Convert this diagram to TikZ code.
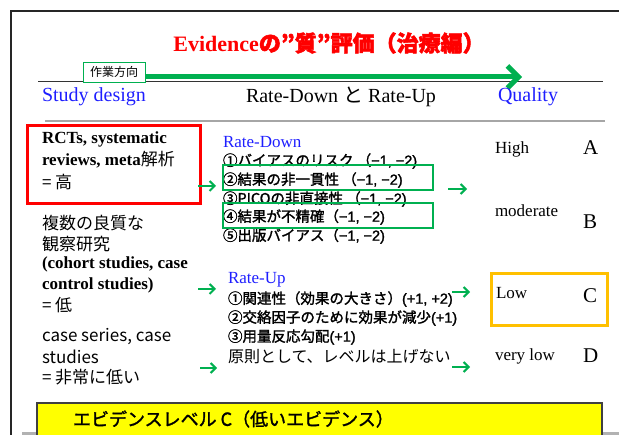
\documentclass[tikz,border=0pt]{standalone}
\usepackage{fontspec}
\setmainfont{Liberation Serif}
\newfontfamily\jp{Noto Sans CJK JP}
\newfontfamily\jpb[FakeBold=1.6]{Noto Sans CJK JP}
\newfontfamily\jpt[FakeBold=2.2]{Noto Sans CJK JP}
\newfontfamily\ls{Liberation Sans}
\newfontfamily\lsb[FakeBold=1.6]{Liberation Sans}
\usetikzlibrary{arrows.meta}
\definecolor{grn}{RGB}{0,176,80}
\definecolor{blu}{RGB}{30,30,255}
\definecolor{org}{RGB}{255,192,0}
\definecolor{ylw}{RGB}{255,255,0}
\newcommand\fsz[1]{\fontsize{#1}{#1}\selectfont}
\begin{document}
\begin{tikzpicture}[x=1pt,y=-1pt,
  lab/.style={anchor=west, inner sep=0pt, outer sep=0pt, text=black},
  hdr/.style={lab, font=\fsz{20}, text=blu},
  lbold/.style={lab, font=\fsz{17}\bfseries},
  ljp/.style={lab, font=\jp\fsz{17}},
  rd/.style={lab, font=\jpb\fsz{14.5}},
  qual/.style={lab, font=\fsz{17}},
  grade/.style={lab, font=\fsz{21}},
  sarrow/.style={draw=grn, line width=2pt, -{Straight Barb[length=5pt,width=10pt]}},
  gbox/.style={draw=grn, line width=2.5pt},
]
\useasboundingbox (0,0) rectangle (619,435);
% frame
\draw[line width=1.5pt, black!85] (11,435) -- (11,11) -- (619,11);
\draw[line width=3pt, black!30] (22,434) -- (619,434);
% title
\node[inner sep=0pt, text=red, font=\fsz{22}\bfseries] (title) at (329,43)
  {Evidence{\jpt の”質”評価（治療編）}};
% header line and work direction
\draw[line width=0.8pt, black!80] (38,81) -- (603,81);
\node[draw=grn, line width=0.7pt, fill=white, minimum width=62pt, minimum height=20pt,
      inner sep=0pt, font=\jp\fsz{12}] (wd) at (114,72) {作業方向};
\coordinate (bigend) at (522,77);
\draw[draw=grn, line width=5pt, -{Straight Barb[length=11pt,width=22pt]}]
  (wd.east |- bigend) -- (bigend);
% headers
\node[hdr] (hsd) at (42,97) {Study design};
\node[inner sep=0pt, font=\fsz{20}] (hrr) at (341,97) {Rate-Down {\jp と} Rate-Up};
\node[hdr] (hq) at (498,97) {Quality};
\draw[line width=1.5pt, black!35] (45,121) -- (605,121);
% left column
\node[lbold] (r1) at (42,139) {RCTs, systematic};
\node[lbold] (r2) at (42,160) {reviews, meta{\jp\mdseries 解析}};
\node[ljp] (r3) at (42,182) {= 高};
\draw[red, line width=3pt] (27,126) rectangle (200,204);
\node[ljp] (o1) at (42,223) {複数の良質な};
\node[ljp] (o2) at (42,244) {観察研究};
\node[lbold] (o3) at (42,264) {(cohort studies, case};
\node[lbold] (o4) at (42,285) {control studies)};
\node[ljp] (o5) at (42,305) {= 低};
\node[ljp] (c1) at (42,337) {case series, case};
\node[ljp] (c2) at (42,357) {studies};
\node[ljp] (c3) at (42,377) {= 非常に低い};
% left arrows
\coordinate (la1s) at (198,186); \coordinate (la1e) at (216,186);
\coordinate (la2s) at (198,289); \coordinate (la2e) at (216,289);
\coordinate (la3s) at (200,368); \coordinate (la3e) at (217,368);
\draw[sarrow] (la1s) -- (la1e);
\draw[sarrow] (la2s) -- (la2e);
\draw[sarrow] (la3s) -- (la3e);
% rate down
\node[lab, font=\fsz{17}, text=blu] (rdh) at (223,142) {Rate-Down};
\node[rd] (d1) at (223,161) {①バイアスのリスク （{\lsb −1, −2)}};
\node[rd] (d2) at (223,180) {②結果の非一貫性 （{\lsb −1, −2)}};
\node[rd] (d3) at (223,199) {③PICOの非直接性 （{\lsb −1, −2)}};
\node[rd] (d4) at (223,217) {④結果が不精確（{\lsb −1, −2)}};
\node[rd] (d5) at (223,236) {⑤出版バイアス（{\lsb −1, −2)}};
\draw[gbox] (223,165) rectangle (433,190);
\draw[gbox] (223,203) rectangle (433,228);
% rate up
\node[lab, font=\fsz{17}, text=blu] (ruh) at (228,280) {Rate-Up};
\node[rd] (u1) at (228,299) {①関連性（効果の大きさ）{\lsb (+1, +2)}};
\node[rd] (u2) at (228,318) {②交絡因子のために効果が減少{\lsb (+1)}};
\node[rd] (u3) at (228,337) {③用量反応勾配{\lsb (+1)}};
\node[lab, font=\jp\fsz{16}] (u4) at (228,357) {原則として、レベルは上げない};
% right arrows
\coordinate (ra1s) at (448,189); \coordinate (ra1e) at (467,189);
\coordinate (ra2s) at (452,292); \coordinate (ra2e) at (470,292);
\coordinate (ra3s) at (452,367); \coordinate (ra3e) at (470,367);
\draw[sarrow] (ra1s) -- (ra1e);
\draw[sarrow] (ra2s) -- (ra2e);
\draw[sarrow] (ra3s) -- (ra3e);
% quality
\node[qual] (qh) at (495,149) {High};
\node[grade] (ga) at (583,148) {A};
\node[qual] (qm) at (495,211) {moderate};
\node[grade] (gb) at (583,222) {B};
\node[qual] (ql) at (496,293) {Low};
\node[grade] (gc) at (583,296) {C};
\node[qual] (qv) at (495,356) {very low};
\node[grade] (gd) at (583,356) {D};
\draw[org, line width=3pt] (491,274) rectangle (607,326);
% bottom
\draw[fill=ylw, draw=black!75, line width=1.5pt] (37,403) rectangle (602,437);
\node[lab, font=\jpb\fsz{18}] (ev) at (73,419) {エビデンスレベル C（低いエビデンス）};
\end{tikzpicture}
\end{document}
